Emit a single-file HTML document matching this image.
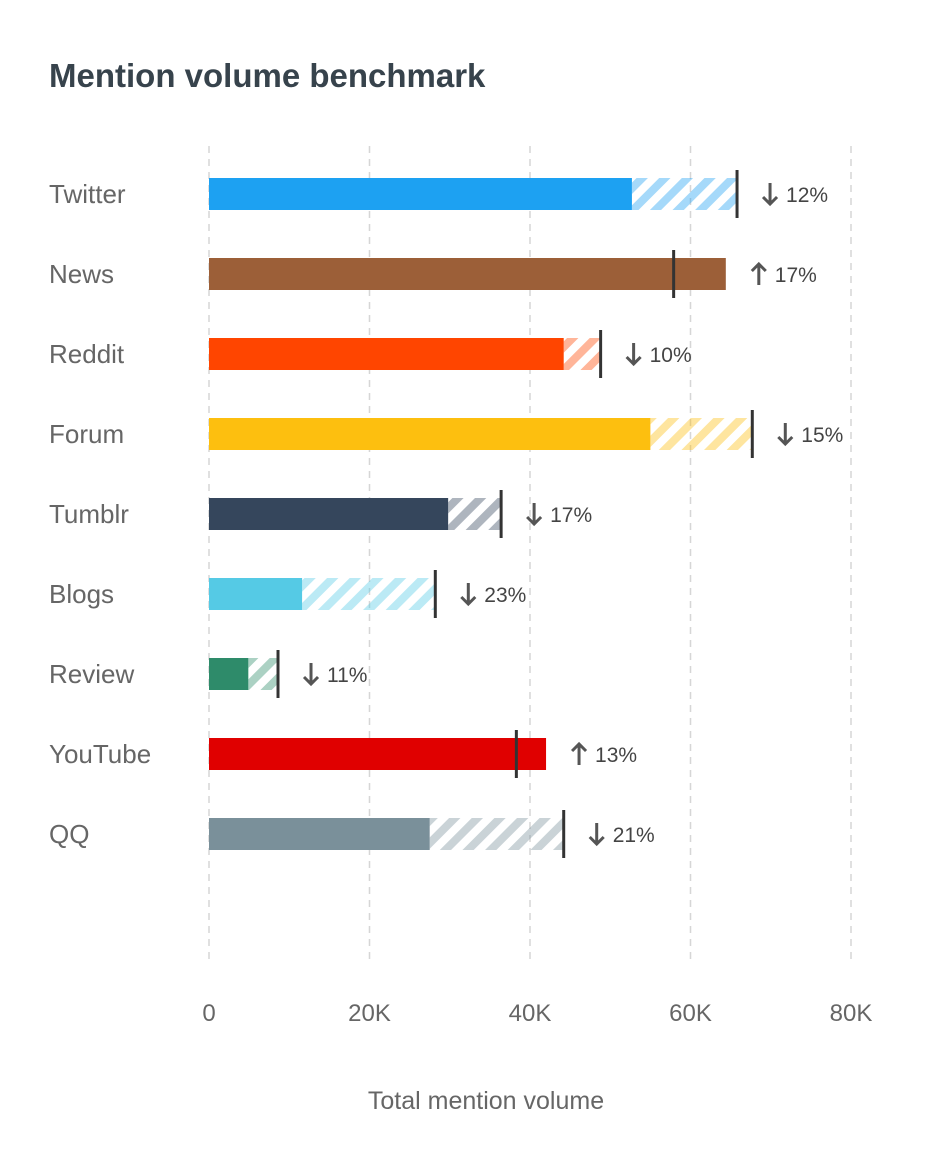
<!DOCTYPE html>
<html><head><meta charset="utf-8"><style>
body{margin:0;background:#fff;}
svg{display:block;font-family:"Liberation Sans",sans-serif;}
</style></head><body>
<svg id="c" width="950" height="1168">
<defs>
</defs>
<text x="49" y="87" font-size="33" font-weight="bold" fill="#37434c">Mention volume benchmark</text>
<text x="486" y="1109" font-size="25" fill="#666" text-anchor="middle">Total mention volume</text>
</svg>
<script>
const categories=["Twitter","News","Reddit","Forum","Tumblr","Blogs","Review","YouTube","QQ"];
const currentValues=[52700,64400,44200,55000,29800,11600,4900,42000,27500];
const benchmarkValues=[65800,57900,48800,67700,36400,28200,8600,38300,44200];
const changeLabels=["12%","17%","10%","15%","17%","23%","11%","13%","21%"];
const tickValues=[0,20000,40000,60000,80000];
const tickLabels=["0","20K","40K","60K","80K"];
const colors=["#1da1f2","#9c5f38","#ff4500","#fdbf0f","#35465c","#55cae5","#2e8b6a","#e00000","#7a909a"];
const svg=document.getElementById('c');const NS="http://www.w3.org/2000/svg";
const defs=svg.querySelector('defs');
const x=v=>209+v/80000*642;
const y=i=>194+i*80;
function mk(t,a,p){const e=document.createElementNS(NS,t);for(const k in a)e.setAttribute(k,a[k]);(p||svg).appendChild(e);return e;}
tickValues.forEach((v,i)=>{
 const l=mk('line',{x1:x(v),x2:x(v),y1:146,y2:962,stroke:'#d6d6d6','stroke-width':1.5,'stroke-dasharray':'7,6'});
 
 
 const t=mk('text',{x:x(v),y:1021,'font-size':24,fill:'#666','text-anchor':'middle'});t.textContent=tickLabels[i];
 
 
});
categories.forEach((c,i)=>{
 const p=mk('pattern',{id:'h'+i,patternUnits:'userSpaceOnUse',width:16,height:16,patternTransform:'rotate(45)'},defs);
 mk('rect',{x:0,y:0,width:8,height:16,fill:colors[i],opacity:0.4},p);
 const cy=y(i);
 const lab=mk('text',{x:49,y:cy+9,'font-size':26,fill:'#666'});lab.textContent=c;
 
 
 const cur=currentValues[i],b=benchmarkValues[i];
 if(b>cur){const h=mk('rect',{x:x(cur),y:cy-16,width:x(b)-x(cur),height:32,fill:'url(#h'+i+')'});
  
  }
 const bar=mk('rect',{x:x(0),y:cy-16,width:x(cur)-x(0),height:32,fill:colors[i]});
 
 
 const m=mk('line',{x1:x(b),x2:x(b),y1:cy-24,y2:cy+24,stroke:'#333','stroke-width':3});
 
 
 const ax=x(Math.max(cur,b))+33;const up=cur>b;
 const g=mk('g',{stroke:'#555','stroke-width':3,fill:'none'});
 
 
 if(up){mk('path',{d:`M${ax} ${cy+11}V${cy-9}M${ax-7} ${cy-3}L${ax} ${cy-10}L${ax+7} ${cy-3}`},g);}
 else{mk('path',{d:`M${ax} ${cy-11}V${cy+9}M${ax-7} ${cy+3}L${ax} ${cy+10}L${ax+7} ${cy+3}`},g);}
 const t=mk('text',{x:ax+16,y:cy+8,'font-size':21,fill:'#444'});t.textContent=changeLabels[i];
 
 
});
</script>
</body></html>
